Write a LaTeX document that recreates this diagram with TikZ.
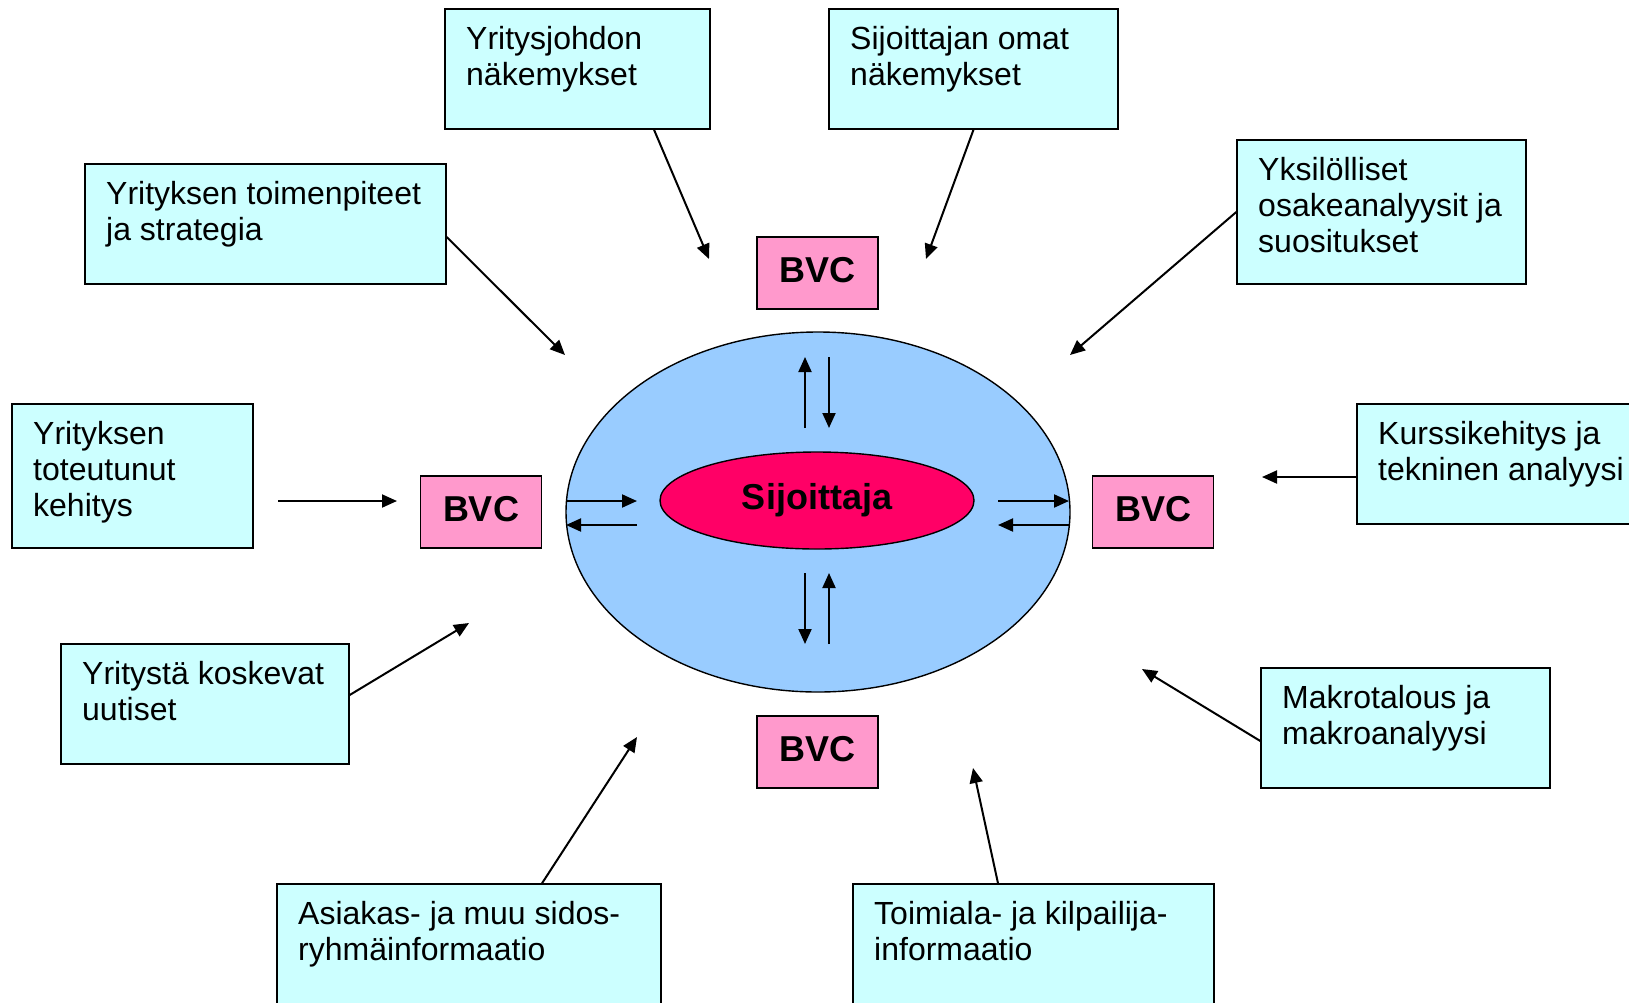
\documentclass[tikz,border=0pt]{standalone}
\usepackage{fontspec}
\setmainfont{Liberation Sans}
\usetikzlibrary{arrows.meta,shapes.geometric}
\definecolor{boxcyan}{HTML}{CCFFFF}
\definecolor{bvcpink}{HTML}{FF99CC}
\definecolor{outerblue}{HTML}{99CCFF}
\definecolor{innerred}{HTML}{FF0066}
\begin{document}
\begin{tikzpicture}[x=1pt,y=-1pt,
  infobox/.style={draw=black,fill=boxcyan,line width=1.4pt,rectangle,inner sep=0pt},
  infotext/.style={anchor=north west,inner sep=0pt,align=left,font=\fontsize{32}{36}\selectfont},
  bvc/.style={draw=black,fill=bvcpink,line width=1.4pt,rectangle,minimum width=121pt,minimum height=72pt,inner sep=0pt,text depth=7pt,font=\fontsize{36}{40}\selectfont\bfseries},
  conn/.style={line width=2pt,-{Triangle[length=15pt,width=13pt]}},
]
\useasboundingbox (0,0) rectangle (1629,1002);
\fill[white] (0,0) rectangle (1629,1002);

% outer and inner ellipses
\node[ellipse,draw=black,line width=1.4pt,fill=outerblue,minimum width=504pt,minimum height=360pt,inner sep=0pt] (outer) at (818,512) {};
\node[ellipse,draw=black,line width=1.4pt,fill=innerred,minimum width=314pt,minimum height=97pt,inner sep=0pt,font=\fontsize{36}{40}\selectfont\bfseries] (sij) at (817,500.5) {Sijoittaja};

% BVC boxes
\node[bvc] (bvctop) at (817.5,273) {BVC};
\node[bvc] (bvcbot) at (817.5,752) {BVC};
\node[bvc] (bvcleft) at (481,512) {BVC};
\node[bvc] (bvcright) at (1153,512) {BVC};

% info boxes
\node[infobox,minimum width=265pt,minimum height=120pt] (yj) at (577.5,69) {};
\node[infotext] (yjt) at (466,26.5) {Yritysjohdon\\näkemykset};
\node[infobox,minimum width=289pt,minimum height=120pt] (so) at (973.5,69) {};
\node[infotext] (sot) at (850,26.5) {Sijoittajan omat\\näkemykset};
\node[infobox,minimum width=289pt,minimum height=144pt] (yk) at (1381.5,212) {};
\node[infotext] (ykt) at (1258,157.5) {Yksilölliset\\osakeanalyysit ja\\suositukset};
\node[infobox,minimum width=361pt,minimum height=120pt] (yt) at (265.5,224) {};
\node[infotext] (ytt) at (106,181.5) {Yrityksen toimenpiteet\\ja strategia};
\node[infobox,minimum width=241pt,minimum height=144pt] (ytk) at (132.5,476) {};
\node[infotext] (ytkt) at (33,421.5) {Yrityksen\\toteutunut\\kehitys};
\node[infobox,minimum width=288pt,minimum height=120pt] (ykos) at (205,704) {};
\node[infotext] (ykost) at (82,661.5) {Yritystä koskevat\\uutiset};
\node[infobox,minimum width=283pt,minimum height=120pt] (kk) at (1498.5,464) {};
\node[infotext] (kkt) at (1378,421.5) {Kurssikehitys ja\\tekninen analyysi};
\node[infobox,minimum width=289pt,minimum height=120pt] (mk) at (1405.5,728) {};
\node[infotext] (mkt) at (1282,685.5) {Makrotalous ja\\makroanalyysi};
\node[infobox,minimum width=384pt,minimum height=128pt] (as) at (469,948) {};
\node[infotext] (ast) at (298,901.5) {Asiakas- ja muu sidos-\\ryhmäinformaatio};
\node[infobox,minimum width=361pt,minimum height=128pt] (to) at (1033.5,948) {};
\node[infotext] (tot) at (874,901.5) {Toimiala- ja kilpailija-\\informaatio};

% free arrow ends
\coordinate (t1) at (709,259);
\coordinate (t2) at (926,259);
\coordinate (t3) at (1070,355);
\coordinate (t4) at (565,355);
\coordinate (s5) at (278,501);
\coordinate (t5) at (397,501);
\coordinate (t6) at (469,623);
\coordinate (t7) at (1262,477);
\coordinate (t8) at (1142,669);
\coordinate (t9) at (637,737);
\coordinate (t10) at (973,768);

\draw[conn] ([xshift=76.5pt]yj.south) -- (t1);
\draw[conn] (so.south) -- (t2);
\draw[conn] (yk.west) -- (t3);
\draw[conn] ([yshift=-13pt]yt.east) -- (t4);
\draw[conn] (s5) -- (t5);
\draw[conn] ([yshift=9pt]ykos.east) -- (t6);
\draw[conn] ([yshift=-13pt]kk.west) -- (t7);
\draw[conn] ([yshift=-13pt]mk.west) -- (t8);
\draw[conn] ([xshift=73pt]as.north) -- (t9);
\draw[conn] ([xshift=-35.5pt]to.north) -- (t10);

% inner arrows
\coordinate (u1) at (805,428); \coordinate (u2) at (805,357);
\coordinate (d1) at (829,357); \coordinate (d2) at (829,428);
\coordinate (bd1) at (805,573); \coordinate (bd2) at (805,644);
\coordinate (bu1) at (829,644); \coordinate (bu2) at (829,573);
\coordinate (lr1) at (566,501); \coordinate (lr2) at (637,501);
\coordinate (ll1) at (637,525); \coordinate (ll2) at (566,525);
\coordinate (rr1) at (998,501); \coordinate (rr2) at (1069,501);
\coordinate (rl1) at (1069,525); \coordinate (rl2) at (998,525);
\draw[conn] (u1) -- (u2);
\draw[conn] (d1) -- (d2);
\draw[conn] (bd1) -- (bd2);
\draw[conn] (bu1) -- (bu2);
\draw[conn] (lr1) -- (lr2);
\draw[conn] (ll1) -- (ll2);
\draw[conn] (rr1) -- (rr2);
\draw[conn] (rl1) -- (rl2);
\end{tikzpicture}
\end{document}
